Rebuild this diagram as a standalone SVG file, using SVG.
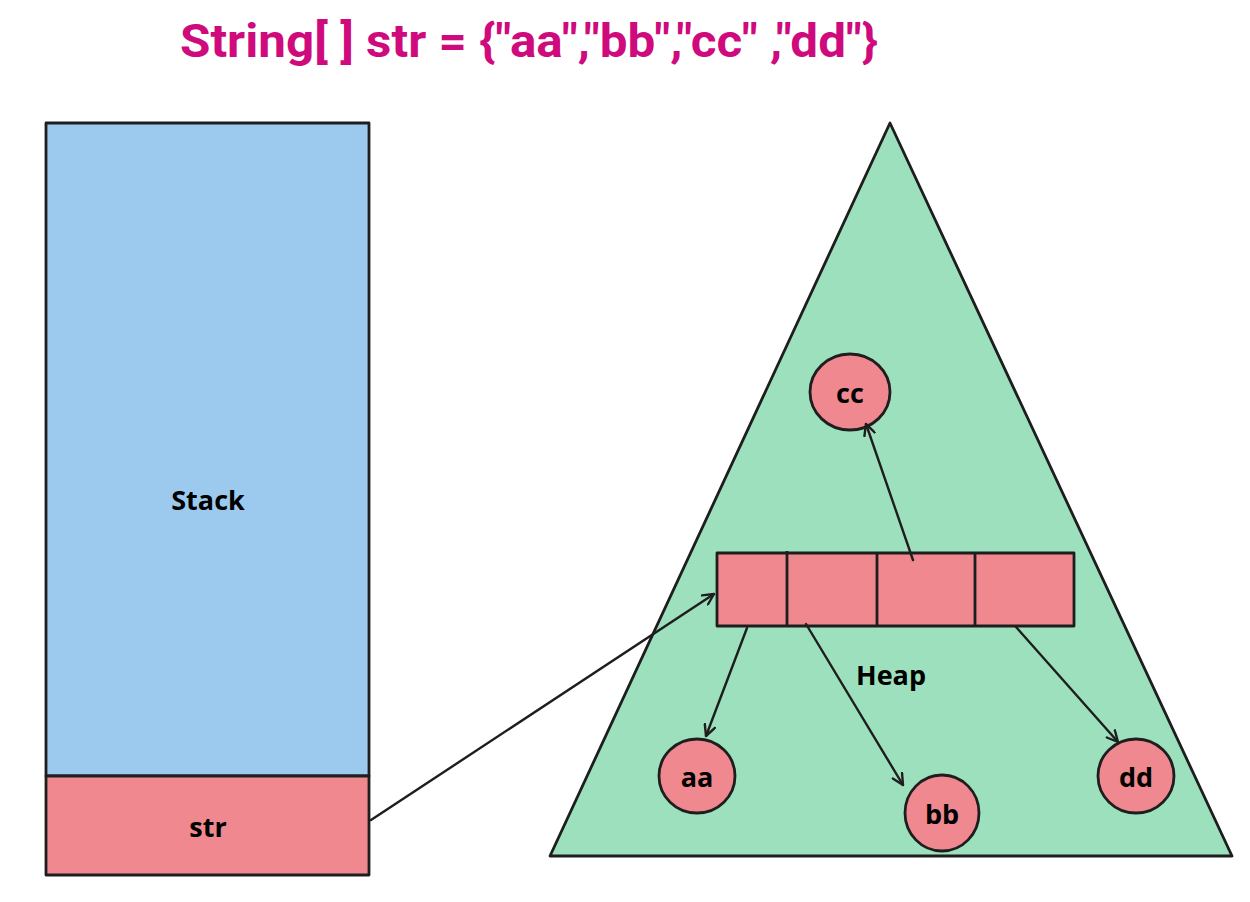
<svg xmlns="http://www.w3.org/2000/svg" width="1250" height="902" viewBox="0 0 1250 902">
<defs>
<marker id="ah" viewBox="0 0 12 12" refX="11" refY="6" markerWidth="13" markerHeight="13" markerUnits="userSpaceOnUse" orient="auto">
<path d="M1,1 L11,6 L1,11" fill="none" stroke="#1e1e1e" stroke-width="2.2" stroke-linecap="round" stroke-linejoin="round"/>
</marker>
<style>
.s{stroke:#1e1e1e;stroke-width:2.8;stroke-linejoin:round}
.pink{fill:#f0888f}
.t{font-family:"Open Sans","Noto Sans","Liberation Sans",sans-serif;font-weight:bold;font-size:27px;fill:#000;text-anchor:middle;dominant-baseline:central}
.c{fill:none;stroke:#1e1e1e;stroke-width:2.4;stroke-linecap:round}
</style>
</defs>
<rect width="1250" height="902" fill="#ffffff"/>
<text x="529" y="41" font-family="Roboto,'Liberation Sans',sans-serif" font-weight="bold" font-size="46" fill="#cf0a7c" text-anchor="middle" dominant-baseline="central" textLength="698" lengthAdjust="spacingAndGlyphs">String[ ] str = {"aa","bb","cc" ,"dd"}</text>
<g id="stack">
<rect class="s" x="46" y="123" width="323" height="653" fill="#9ccaee"/>
<text class="t" x="208" y="499">Stack</text>
</g>
<g id="str">
<rect class="s pink" x="46" y="776" width="323" height="99"/>
<text class="t" x="208" y="826">str</text>
</g>
<g id="heap">
<polygon class="s" points="890,123 1232,856 550,856" fill="#9ce0bd"/>
<text class="t" x="891" y="674">Heap</text>
</g>
<g id="array">
<rect class="s pink" x="717" y="553" width="357" height="73"/>
<line class="s" x1="787" y1="551" x2="787" y2="626"/>
<line class="s" x1="877" y1="553" x2="877" y2="627"/>
<line class="s" x1="975" y1="553" x2="975" y2="626"/>
</g>
<g id="cc">
<ellipse class="s pink" cx="850" cy="392" rx="40" ry="38"/>
<text class="t" x="850" y="392">cc</text>
</g>
<g id="aa">
<ellipse class="s pink" cx="697" cy="776" rx="38" ry="37"/>
<text class="t" x="697" y="776">aa</text>
</g>
<g id="bb">
<ellipse class="s pink" cx="942" cy="813" rx="37" ry="38"/>
<text class="t" x="942" y="813">bb</text>
</g>
<g id="dd">
<ellipse class="s pink" cx="1136" cy="776" rx="38" ry="37"/>
<text class="t" x="1136" y="776">dd</text>
</g>
<g id="connectors">
<line class="c" x1="371" y1="820" x2="714" y2="594" marker-end="url(#ah)"/>
<line class="c" x1="913" y1="560" x2="866" y2="424" marker-end="url(#ah)"/>
<line class="c" x1="747" y1="628" x2="706" y2="736" marker-end="url(#ah)"/>
<line class="c" x1="806" y1="624" x2="903" y2="785" marker-end="url(#ah)"/>
<line class="c" x1="1016" y1="627" x2="1118" y2="742" marker-end="url(#ah)"/>
</g>
</svg>
